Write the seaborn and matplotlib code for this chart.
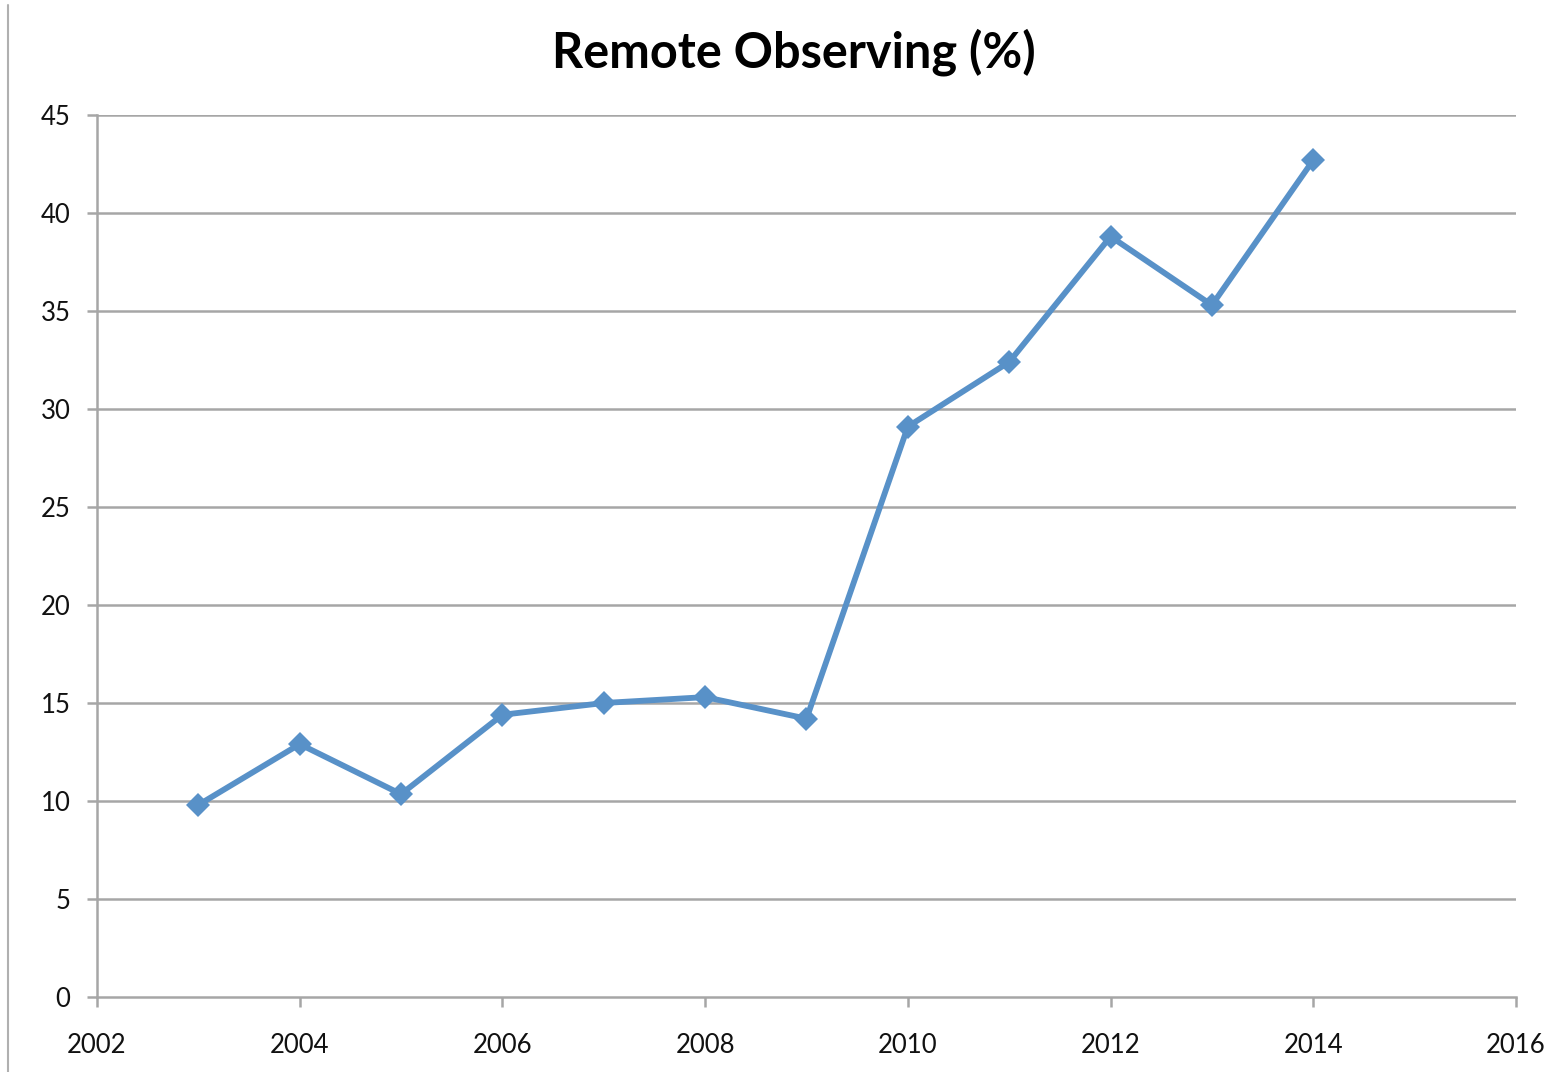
import matplotlib
matplotlib.use("Agg")
import matplotlib.pyplot as plt
import seaborn as sns
import pandas as pd
from matplotlib.lines import Line2D

years = [2003, 2004, 2005, 2006, 2007, 2008, 2009, 2010, 2011, 2012, 2013, 2014]
remote_pct = [9.8, 12.9, 10.35, 14.4, 15.0, 15.3, 14.2, 29.1, 32.4, 38.8, 35.3, 42.7]
x_ticks = [2002, 2004, 2006, 2008, 2010, 2012, 2014, 2016]
y_ticks = [0, 5, 10, 15, 20, 25, 30, 35, 40, 45]
title = "Remote Observing (%)"

df = pd.DataFrame({"year": years, "pct": remote_pct})

sns.set_theme(style="white")
plt.rcParams["font.family"] = ["Lato", "DejaVu Sans"]

fig = plt.figure(figsize=(15.63, 10.72), dpi=100)
ax = fig.add_axes([97/1563, 1 - 997/1072, (1516 - 97)/1563, (997 - 115)/1072])

grid_c = "#a6a6a6"
for y in y_ticks[1:]:
    ax.axhline(y, color=grid_c, lw=1.8, zorder=0)

sns.lineplot(data=df, x="year", y="pct", ax=ax, color="#5891c8", lw=4.2,
             marker="D", markersize=12, markeredgewidth=0, zorder=3)

ax.set_xlim(2002, 2016)
ax.set_ylim(0, 45)
ax.set_xticks(x_ticks)
ax.set_yticks(y_ticks)
ax.set_xlabel("")
ax.set_ylabel("")
for s in ["top", "right"]:
    ax.spines[s].set_visible(False)
for s in ["left", "bottom"]:
    ax.spines[s].set_color(grid_c)
    ax.spines[s].set_linewidth(1.8)
ax.tick_params(axis="both", direction="out", length=7, width=1.8, color=grid_c,
               labelsize=18.5, labelcolor="#111111", bottom=True, left=True)
ax.tick_params(axis="x", pad=19)
ax.tick_params(axis="y", pad=12)

fig.text(0.508, 1 - 52/1072, title, ha="center", va="center",
         fontsize=35, fontweight="bold", color="#000000")

fig.add_artist(Line2D([8/1563, 8/1563], [0, 1 - 5/1072], color="#b0b0b0", lw=1.5,
                      transform=fig.transFigure))

fig.savefig("out.png", dpi=100)
